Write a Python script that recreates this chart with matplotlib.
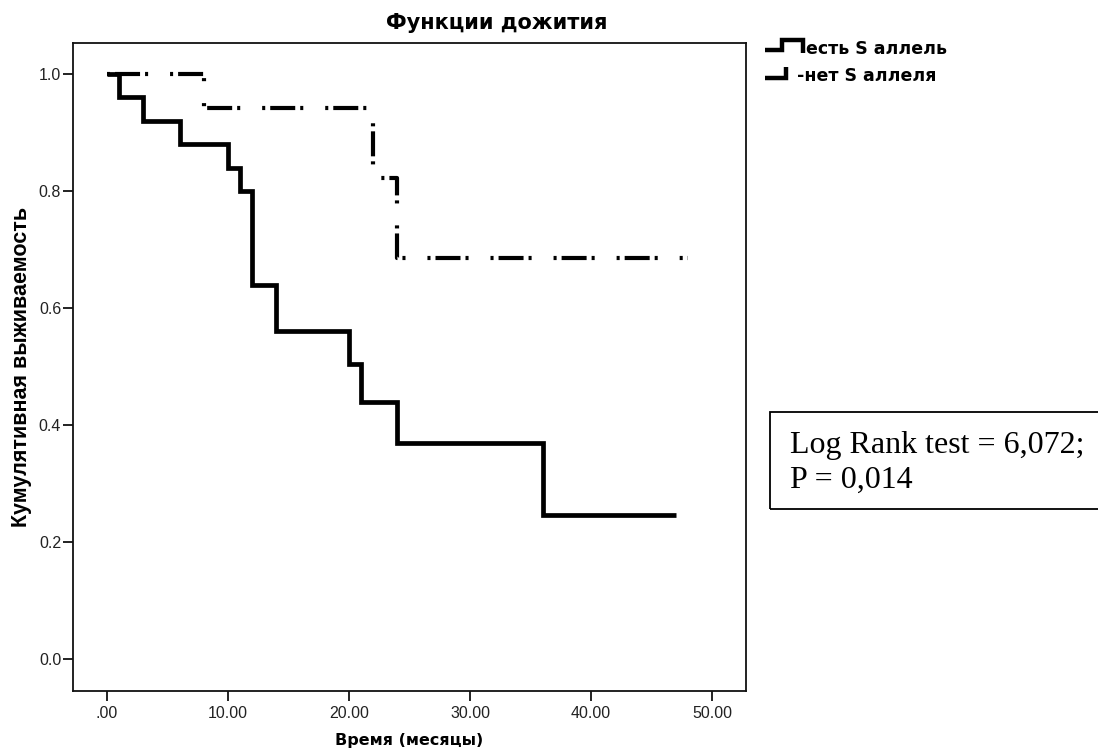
import matplotlib
matplotlib.use("Agg")
import matplotlib.pyplot as plt
from matplotlib.lines import Line2D
import numpy as np

matplotlib.rcParams["lines.scale_dashes"] = False

# Kaplan-Meier step data
time_s = [0, 1, 3, 6, 10, 11, 12, 14, 20, 21, 24, 36, 47]
surv_s = [1.0, 0.96, 0.92, 0.88, 0.84, 0.80, 0.64, 0.56, 0.504, 0.44, 0.369, 0.246, 0.246]

time_n = [0, 8, 22, 24, 48]
surv_n = [1.0, 0.942, 0.823, 0.686, 0.686]

x_ticks = [0, 10, 20, 30, 40, 50]
x_ticklabels = [".00", "10.00", "20.00", "30.00", "40.00", "50.00"]
y_ticks = [0.0, 0.2, 0.4, 0.6, 0.8, 1.0]
y_ticklabels = ["0.0", "0.2", "0.4", "0.6", "0.8", "1.0"]

labels = ["есть S аллель", "-нет S аллеля"]
title = "Функции дожития"
xlabel = "Время (месяцы)"
ylabel = "Кумулятивная выживаемость"
stats_text = "Log Rank test = 6,072;\nP = 0,014"

W, H = 1098, 754
fig = plt.figure(figsize=(W / 100, H / 100), dpi=100)
fig.patch.set_facecolor("white")
ax = fig.add_axes([73 / W, 1 - 691 / H, (746 - 73) / W, (691 - 43) / H])

# SPSS-like dash-dot pattern (points)
DASH = (0, (2.2, 3.6, 18, 3.6, 2.2, 15.8))

ax.step(time_s, surv_s, where="post", color="black", lw=3.4,
        solid_joinstyle="miter", solid_capstyle="butt")
ax.step(time_n, surv_n, where="post", color="black", lw=3.0,
        linestyle=DASH, dash_capstyle="butt")

ax.set_xlim(-2.8, 52.8)
ax.set_ylim(-0.055, 1.053)
ax.set_xticks(x_ticks)
ax.set_xticklabels(x_ticklabels)
ax.set_yticks(y_ticks)
ax.set_yticklabels(y_ticklabels)

for sp in ax.spines.values():
    sp.set_linewidth(1.3)
    sp.set_color("#111111")
ax.tick_params(direction="out", length=7, width=1.3, color="#111111",
               labelsize=11.5)
ax.tick_params(axis="x", pad=4)
ax.tick_params(axis="y", pad=1.5)
for lab in ax.get_xticklabels() + ax.get_yticklabels():
    lab.set_family(["Liberation Sans"])
    lab.set_color("#222222")

fig.text(409 / W, 1 - 741 / H, xlabel, ha="center", va="center",
         fontsize=11.5, fontweight="bold", family=["DejaVu Sans"])
fig.text(22 / W, 1 - 367 / H, ylabel, ha="center", va="center", rotation=90,
         fontsize=15.5, fontweight="bold", family=["Liberation Sans"])
fig.text(497 / W, 1 - 23 / H, title, ha="center", va="center",
         fontsize=15, fontweight="bold", family=["DejaVu Sans"])

# legend icons drawn as small step glyphs
k = dict(color="black", lw=3.2, solid_joinstyle="miter", solid_capstyle="butt",
         transform=None)
fig.lines.append(Line2D([765, 782, 782, 803, 803], [H - 50, H - 50, H - 40, H - 40, H - 53], **k))
fig.lines.append(Line2D([765, 786, 786], [H - 78, H - 78, H - 67], **k))
fig.text(806 / W, 1 - 49 / H, labels[0], ha="left", va="center",
         fontsize=12.5, fontweight="bold", family=["DejaVu Sans"])
fig.text(797 / W, 1 - 76 / H, labels[1], ha="left", va="center",
         fontsize=12.5, fontweight="bold", family=["DejaVu Sans"])

# statistics box
fig.patches.append(plt.Rectangle((770 / W, 1 - 509 / H), (1110 - 770) / W, (509 - 412) / H,
                                 transform=fig.transFigure, fill=False,
                                 edgecolor="black", lw=1.3))
fig.text(790 / W, 1 - 463 / H, stats_text, ha="left", va="center",
         fontsize=23, family=["Liberation Serif"], linespacing=1.3)

fig.savefig("out.png", dpi=100)
